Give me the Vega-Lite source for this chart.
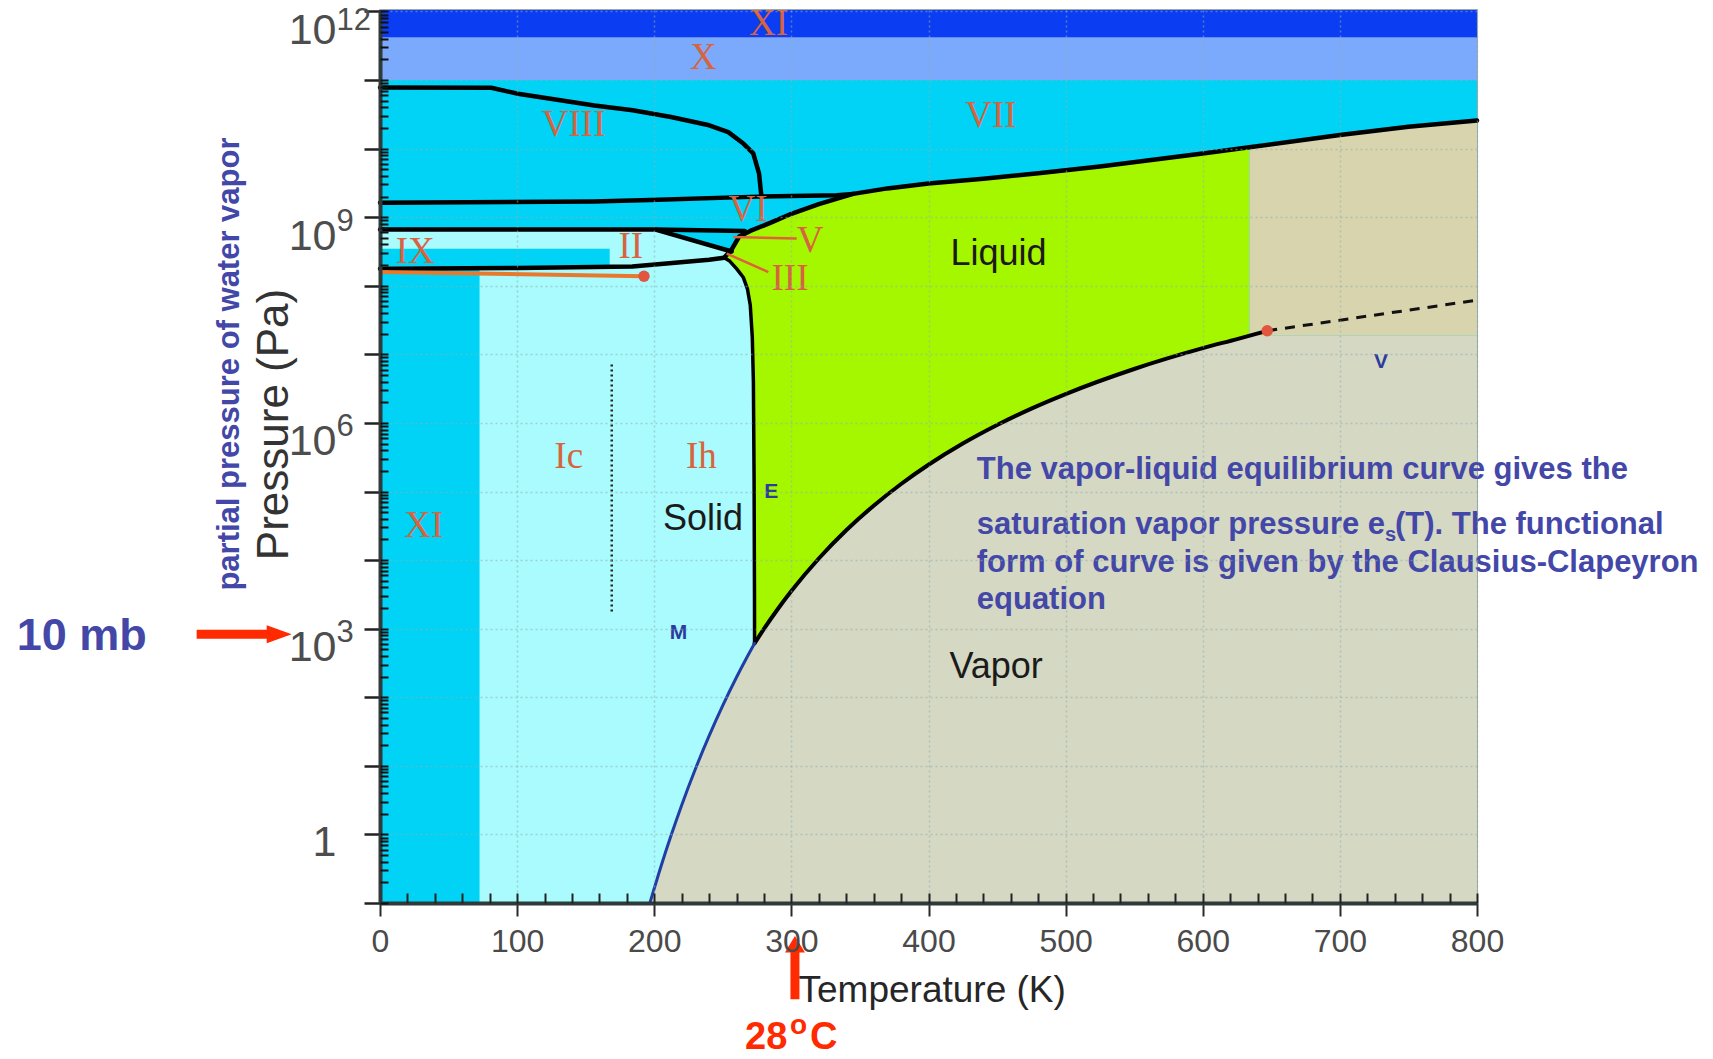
{
"$schema":"https://vega.github.io/schema/vega-lite/v6.json",
"width":1097,"height":893,
"autosize":{"type":"none"},
"padding":{"left":380,"top":10,"right":236,"bottom":156},
"background":"white",
"datasets":{
"rects":[
{"r":"cyan","T":0,"T2":800,"P":1e11,"P2":0.1},
{"r":"xband","T":0,"T2":800,"P":4.17e11,"P2":1e11},
{"r":"xiband","T":0,"T2":800,"P":1.05e12,"P2":4.17e11},
{"r":"ix","T":0,"T2":167.5,"P":3.467e8,"P2":1.905e8},
{"r":"dotted","T":169,"T2":169,"P":1778,"P2":7.413e6},
{"r":"varrow","T":257.6,"T2":303.9,"P":5.129e8,"P2":4.898e8},
{"r":"iiiarrow","T":252.8,"T2":283.2,"P":2.951e8,"P2":1.585e8},
{"r":"mbarrow","T":-133.7,"T2":-81.7,"P":826,"P2":826},
{"r":"carrow","T":302.6,"T2":302.6,"P":0.0211,"P2":0.00395},
{"r":"mbhead","T":-73.5,"T2":-73.5,"P":826,"P2":826},
{"r":"chead","T":302.6,"T2":302.6,"P":0.025,"P2":0.025},
{"r":"crit","T":647,"T2":647,"P":2.206e7,"P2":2.206e7},
{"r":"iidot","T":192.5,"T2":192.5,"P":1.38e8,"P2":1.38e8}
],
"areas":[
{"a":"green","T":251,"P":2.57e8,"P2":0.1},
{"a":"green","T":256.5,"P":3.388e8,"P2":0.1},
{"a":"green","T":262,"P":5.248e8,"P2":0.1},
{"a":"green","T":270,"P":6.31e8,"P2":0.1},
{"a":"green","T":285,"P":8.318e8,"P2":0.1},
{"a":"green","T":300,"P":1.122e9,"P2":0.1},
{"a":"green","T":320,"P":1.549e9,"P2":0.1},
{"a":"green","T":345,"P":2.188e9,"P2":0.1},
{"a":"green","T":370,"P":2.63e9,"P2":0.1},
{"a":"green","T":400,"P":3.09e9,"P2":0.1},
{"a":"green","T":440,"P":3.631e9,"P2":0.1},
{"a":"green","T":480,"P":4.365e9,"P2":0.1},
{"a":"green","T":525,"P":5.495e9,"P2":0.1},
{"a":"green","T":561,"P":6.761e9,"P2":0.1},
{"a":"green","T":600,"P":8.511e9,"P2":0.1},
{"a":"green","T":634,"P":1.047e10,"P2":0.1},
{"a":"ii","T":0,"P":6.607e8,"P2":1.778e8},
{"a":"ii","T":100,"P":6.607e8,"P2":1.82e8},
{"a":"ii","T":184,"P":6.607e8,"P2":1.905e8},
{"a":"ii","T":201,"P":6.607e8,"P2":2.042e8},
{"a":"ii","T":240,"P":3.89e8,"P2":2.399e8},
{"a":"ii","T":251,"P":3.388e8,"P2":2.57e8},
{"a":"ii","T":256.5,"P":3.162e8,"P2":3.162e8},
{"a":"ih","T":72.6,"P":1.778e8,"P2":0.1},
{"a":"ih","T":100,"P":1.82e8,"P2":0.1},
{"a":"ih","T":184,"P":1.905e8,"P2":0.1},
{"a":"ih","T":240,"P":2.399e8,"P2":0.1},
{"a":"ih","T":251,"P":2.57e8,"P2":0.1},
{"a":"ih","T":255,"P":2.291e8,"P2":0.1},
{"a":"ih","T":260,"P":1.778e8,"P2":0.1},
{"a":"ih","T":265,"P":1.318e8,"P2":0.1},
{"a":"ih","T":268,"P":8.913e7,"P2":0.1},
{"a":"ih","T":270,"P":5.248e7,"P2":0.1},
{"a":"ih","T":271.5,"P":1.778e7,"P2":0.1},
{"a":"ih","T":272.3,"P":3.981e6,"P2":0.1},
{"a":"ih","T":272.8,"P":1.585e5,"P2":0.1},
{"a":"ih","T":273.1,"P":3162,"P2":0.1},
{"a":"ih","T":273.16,"P":611,"P2":0.1},
{"a":"ih","T":273.2,"P":0.1,"P2":0.1},
{"a":"vapor","T":197,"P":0.1028,"P2":0.1},
{"a":"vapor","T":205,"P":0.3467,"P2":0.1},
{"a":"vapor","T":212,"P":0.931,"P2":0.1},
{"a":"vapor","T":220,"P":2.673,"P2":0.1},
{"a":"vapor","T":230,"P":8.995,"P2":0.1},
{"a":"vapor","T":240,"P":27.35,"P2":0.1},
{"a":"vapor","T":250,"P":76.21,"P2":0.1},
{"a":"vapor","T":260,"P":195.9,"P2":0.1},
{"a":"vapor","T":268,"P":396.3,"P2":0.1},
{"a":"vapor","T":273.16,"P":611,"P2":0.1},
{"a":"vapor","T":280,"P":991,"P2":0.1},
{"a":"vapor","T":290,"P":1920,"P2":0.1},
{"a":"vapor","T":300,"P":3537,"P2":0.1},
{"a":"vapor","T":320,"P":10550,"P2":0.1},
{"a":"vapor","T":340,"P":27190,"P2":0.1},
{"a":"vapor","T":360,"P":62150,"P2":0.1},
{"a":"vapor","T":380,"P":128800,"P2":0.1},
{"a":"vapor","T":400,"P":245600,"P2":0.1},
{"a":"vapor","T":425,"P":500000,"P2":0.1},
{"a":"vapor","T":450,"P":932000,"P2":0.1},
{"a":"vapor","T":475,"P":1.62e6,"P2":0.1},
{"a":"vapor","T":500,"P":2.64e6,"P2":0.1},
{"a":"vapor","T":550,"P":6.12e6,"P2":0.1},
{"a":"vapor","T":600,"P":1.23e7,"P2":0.1},
{"a":"vapor","T":625,"P":1.67e7,"P2":0.1},
{"a":"vapor","T":647,"P":2.206e7,"P2":0.1},
{"a":"vapor","T":649,"P":1.86e7,"P2":0.1},
{"a":"vapor","T":800,"P":1.86e7,"P2":0.1},
{"a":"beige","T":634,"P":1.047e10,"P2":1.86e7},
{"a":"beige","T":700,"P":1.585e10,"P2":1.86e7},
{"a":"beige","T":750,"P":2.089e10,"P2":1.86e7},
{"a":"beige","T":800,"P":2.57e10,"P2":1.86e7}
],
"lines":[
{"l":"viii","T":0,"P":7.762e10},
{"l":"viii","T":81.1,"P":7.727e10},
{"l":"viii","T":100.6,"P":6.31e10},
{"l":"viii","T":156.4,"P":4.266e10},
{"l":"viii","T":184.3,"P":3.631e10},
{"l":"viii","T":212.2,"P":2.884e10},
{"l":"viii","T":240.1,"P":2.188e10},
{"l":"viii","T":254,"P":1.738e10},
{"l":"viii","T":265.2,"P":1.175e10},
{"l":"viii","T":272.2,"P":8.511e9},
{"l":"viii","T":276.4,"P":4.365e9},
{"l":"viii","T":277.8,"P":2.344e9},
{"l":"viii","T":278.2,"P":1.95e9},
{"l":"upper","T":0,"P":1.622e9},
{"l":"upper","T":156,"P":1.698e9},
{"l":"upper","T":197,"P":1.778e9},
{"l":"upper","T":276,"P":1.995e9},
{"l":"upper","T":333,"P":2.089e9},
{"l":"upper","T":345,"P":2.188e9},
{"l":"melt","T":251,"P":2.57e8},
{"l":"melt","T":256.5,"P":3.388e8},
{"l":"melt","T":262,"P":5.248e8},
{"l":"melt","T":270,"P":6.31e8},
{"l":"melt","T":285,"P":8.318e8},
{"l":"melt","T":300,"P":1.122e9},
{"l":"melt","T":320,"P":1.549e9},
{"l":"melt","T":345,"P":2.188e9},
{"l":"melt","T":370,"P":2.63e9},
{"l":"melt","T":400,"P":3.09e9},
{"l":"melt","T":440,"P":3.631e9},
{"l":"melt","T":480,"P":4.365e9},
{"l":"melt","T":525,"P":5.495e9},
{"l":"melt","T":561,"P":6.761e9},
{"l":"melt","T":600,"P":8.511e9},
{"l":"melt","T":634,"P":1.047e10},
{"l":"melt","T":700,"P":1.585e10},
{"l":"melt","T":750,"P":2.089e10},
{"l":"melt","T":800,"P":2.57e10},
{"l":"lower","T":0,"P":6.607e8},
{"l":"lower","T":201,"P":6.607e8},
{"l":"lower","T":266,"P":6.31e8},
{"l":"iiv","T":201,"P":6.607e8},
{"l":"iiv","T":256.5,"P":3.162e8},
{"l":"iih","T":0,"P":1.778e8},
{"l":"iih","T":100,"P":1.82e8},
{"l":"iih","T":184,"P":1.905e8},
{"l":"iih","T":240,"P":2.399e8},
{"l":"iih","T":251,"P":2.57e8},
{"l":"ihmelt","T":251,"P":2.57e8},
{"l":"ihmelt","T":255,"P":2.291e8},
{"l":"ihmelt","T":260,"P":1.778e8},
{"l":"ihmelt","T":265,"P":1.318e8},
{"l":"ihmelt","T":268,"P":8.913e7},
{"l":"ihmelt","T":270,"P":5.248e7},
{"l":"ihmelt","T":271.5,"P":1.778e7},
{"l":"ihmelt","T":272.3,"P":3.981e6},
{"l":"ihmelt","T":272.8,"P":1.585e5},
{"l":"ihmelt","T":273.1,"P":3162},
{"l":"ihmelt","T":273.16,"P":611},
{"l":"lv","T":273.16,"P":611},
{"l":"lv","T":280,"P":991},
{"l":"lv","T":290,"P":1920},
{"l":"lv","T":300,"P":3537},
{"l":"lv","T":320,"P":10550},
{"l":"lv","T":340,"P":27190},
{"l":"lv","T":360,"P":62150},
{"l":"lv","T":380,"P":128800},
{"l":"lv","T":400,"P":245600},
{"l":"lv","T":425,"P":500000},
{"l":"lv","T":450,"P":932000},
{"l":"lv","T":475,"P":1.62e6},
{"l":"lv","T":500,"P":2.64e6},
{"l":"lv","T":550,"P":6.12e6},
{"l":"lv","T":600,"P":1.23e7},
{"l":"lv","T":625,"P":1.67e7},
{"l":"lv","T":647,"P":2.206e7},
{"l":"sub","T":197,"P":0.1028},
{"l":"sub","T":205,"P":0.3467},
{"l":"sub","T":212,"P":0.931},
{"l":"sub","T":220,"P":2.673},
{"l":"sub","T":230,"P":8.995},
{"l":"sub","T":240,"P":27.35},
{"l":"sub","T":250,"P":76.21},
{"l":"sub","T":260,"P":195.9},
{"l":"sub","T":268,"P":396.3},
{"l":"sub","T":273.16,"P":611},
{"l":"dash","T":647,"P":2.206e7},
{"l":"dash","T":800,"P":6.166e7},
{"l":"orange","T":0,"P":1.585e8},
{"l":"orange","T":192.5,"P":1.38e8}
],
"labels":[
{"g":"roman","text":"XI","T":283.3,"P":6.457e11},
{"g":"roman","text":"X","T":235.9,"P":2.089e11},
{"g":"roman","text":"VIII","T":141.2,"P":2.239e10},
{"g":"roman","text":"VII","T":445.5,"P":2.951e10},
{"g":"roman","text":"VI","T":268.4,"P":1.259e9},
{"g":"roman","text":"V","T":313.6,"P":4.571e8},
{"g":"roman","text":"II","T":182.9,"P":3.715e8},
{"g":"roman","text":"IX","T":25.7,"P":3.09e8},
{"g":"roman","text":"III","T":299,"P":1.259e8},
{"g":"roman","text":"Ic","T":137.6,"P":3.162e5},
{"g":"roman","text":"Ih","T":234.4,"P":3.236e5},
{"g":"roman","text":"XI","T":32,"P":3.162e4},
{"g":"phase","text":"Liquid","T":451,"P":2.884e8},
{"g":"phase","text":"Solid","T":235.5,"P":3.981e4},
{"g":"phase","text":"Vapor","T":449.3,"P":275.4},
{"g":"blue","text":"E","T":285.3,"P":9.772e4},
{"g":"blue","text":"M","T":217.7,"P":871},
{"g":"blue","text":"V","T":730,"P":7.762e6},
{"g":"note","text":"The vapor-liquid equilibrium curve gives the","T":435.2,"P":2.08e5},
{"g":"note","text":"saturation vapor pressure e","T":435.2,"P":3.214e4},
{"g":"note","text":"(T). The functional","T":740.2,"P":3.214e4},
{"g":"note","text":"form of curve is given by the Clausius-Clapeyron","T":435.2,"P":8933},
{"g":"note","text":"equation","T":435.2,"P":2661},
{"g":"sub","text":"s","T":732.9,"P":2.339e4},
{"g":"side","text":"partial pressure of water vapor","T":-109.4,"P":7.228e6},
{"g":"mb","text":"10 mb","T":-264.9,"P":494},
{"g":"red","text":"28","T":266.2,"P":7.4e-4},
{"g":"red","text":"C","T":313.6,"P":7.4e-4},
{"g":"redo","text":"o","T":299,"P":1.22e-3}
]
},
"encoding":{
"x":{"field":"T","type":"quantitative","scale":{"domain":[0,800],"nice":false,"zero":false},"axis":null},
"y":{"field":"P","type":"quantitative","scale":{"type":"log","domain":[0.1,1.05e12],"nice":false},"axis":null}
},
"layer":[
{"data":{"name":"rects"},"transform":[{"filter":"datum.r=='cyan'||datum.r=='xband'||datum.r=='xiband'"}],
 "mark":{"type":"rect"},
 "encoding":{
  "x":{"field":"T","type":"quantitative","scale":{"domain":[0,800],"nice":false,"zero":false},
   "axis":{"orient":"bottom","values":[0,100,200,300,400,500,600,700,800],"tickSize":13,"tickWidth":2,"tickColor":"#2b2b2b","domain":true,"domainColor":"#2f3a3a","domainWidth":4,
    "labelFont":"Liberation Sans","labelFontSize":32,"labelColor":"#4a4a4a","labelPadding":25,"labelBaseline":"middle","labelFlush":false,"labelOverlap":false,
    "grid":true,"gridColor":"#8fb0b0","gridOpacity":0.55,"gridDash":[2,3],"gridWidth":1.5,
    "title":"Temperature (K)","titleFont":"Liberation Sans","titleFontSize":37,"titleFontWeight":"normal","titleColor":"#262626","titleX":551.7,"titleY":98.7,"titleAlign":"center","titleBaseline":"alphabetic","zindex":1}},
  "x2":{"field":"T2"},
  "y":{"field":"P","type":"quantitative","scale":{"type":"log","domain":[0.1,1.05e12],"nice":false},
   "axis":{"orient":"left","values":[0.1,1,10,100,1000,1e4,1e5,1e6,1e7,1e8,1e9,1e10,1e11,1e12],"tickSize":16,"tickWidth":2.5,"tickColor":"#222","domain":true,"domainColor":"#2f3a3a","domainWidth":4,
    "labelExpr":"datum.value == 1 ? '1' : (datum.value == 1000 || datum.value == 1000000 || datum.value == 1000000000 || datum.value == 1000000000000) ? '10' : ''",
    "labelFont":"Liberation Sans","labelFontSize":43,"labelColor":"#4d4d4d","labelAlign":"right","labelBaseline":"middle","labelPadding":28,
    "labelOffset":{"condition":{"test":"datum.value == 1","value":8},"value":19},"labelOverlap":false,"labelFlush":false,"labelBound":false,
    "grid":true,"gridColor":"#8fb0b0","gridOpacity":0.55,"gridDash":[2,3],"gridWidth":1.5,
    "title":"Pressure (Pa)","titleFont":"Liberation Sans","titleFontSize":44,"titleFontWeight":"normal","titleColor":"#333","titleAngle":270,"titleX":-84,"titleY":414,"titleAlign":"center","titleBaseline":"bottom","zindex":1}},
  "y2":{"field":"P2"},
  "color":{"field":"r","type":"nominal","scale":{"domain":["cyan","xband","xiband"],"range":["#00d3f6","#7ba9fb","#0b3df2"]},"legend":null}
 }},
{"data":{"name":"areas"},"transform":[{"filter":"datum.a=='green'"}],
 "mark":{"type":"area","color":"#a5f700","orient":"vertical"},
 "encoding":{
  "x":{"field":"T","type":"quantitative","scale":{"domain":[0,800],"nice":false,"zero":false},
   "axis":{"orient":"bottom","values":[0,20,40,60,80,100,120,140,160,180,200,220,240,260,280,300,320,340,360,380,400,420,440,460,480,500,520,540,560,580,600,620,640,660,680,700,720,740,760,780,800],"tickSize":-10,"tickWidth":2,"tickColor":"#222","domain":false,"labels":false,"grid":false,"title":null,"zindex":1}},
  "y":{"field":"P","type":"quantitative","scale":{"type":"log","domain":[0.1,1.05e12],"nice":false},"stack":null,
   "axis":{"orient":"left","values":[0.1,0.2,0.3,0.4,0.5,0.6,0.7,0.8,0.9,1,2,3,4,5,6,7,8,9,10,20,30,40,50,60,70,80,90,100,200,300,400,500,600,700,800,900,1e3,2e3,3e3,4e3,5e3,6e3,7e3,8e3,9e3,1e4,2e4,3e4,4e4,5e4,6e4,7e4,8e4,9e4,1e5,2e5,3e5,4e5,5e5,6e5,7e5,8e5,9e5,1e6,2e6,3e6,4e6,5e6,6e6,7e6,8e6,9e6,1e7,2e7,3e7,4e7,5e7,6e7,7e7,8e7,9e7,1e8,2e8,3e8,4e8,5e8,6e8,7e8,8e8,9e8,1e9,2e9,3e9,4e9,5e9,6e9,7e9,8e9,9e9,1e10,2e10,3e10,4e10,5e10,6e10,7e10,8e10,9e10,1e11,2e11,3e11,4e11,5e11,6e11,7e11,8e11,9e11,1e12],"tickSize":-8,"tickWidth":2,"tickColor":"#111","domain":false,"labels":false,"grid":false,"title":null,"zindex":1}},
  "y2":{"field":"P2"}
 }},
{"data":{"name":"areas"},"transform":[{"filter":"datum.a=='ii'"}],
 "mark":{"type":"area","color":"#a9fbfd","orient":"vertical"},
 "encoding":{"y":{"field":"P","type":"quantitative","scale":{"type":"log","domain":[0.1,1.05e12],"nice":false},"stack":null,"axis":null},"y2":{"field":"P2"}}},
{"data":{"name":"areas"},"transform":[{"filter":"datum.a=='ih'"}],
 "mark":{"type":"area","color":"#a9fbfd","orient":"vertical"},
 "encoding":{"y":{"field":"P","type":"quantitative","scale":{"type":"log","domain":[0.1,1.05e12],"nice":false},"stack":null,"axis":null},"y2":{"field":"P2"}}},
{"data":{"name":"rects"},"transform":[{"filter":"datum.r=='ix'"}],
 "mark":{"type":"rect","color":"#00d3f6"},
 "encoding":{"x2":{"field":"T2"},"y2":{"field":"P2"}}},
{"data":{"name":"areas"},"transform":[{"filter":"datum.a=='vapor'"}],
 "mark":{"type":"area","color":"#d5d8c3","orient":"vertical","interpolate":"monotone"},
 "encoding":{
  "y":{"field":"P","type":"quantitative","scale":{"type":"log","domain":[0.1,1.05e12],"nice":false},"stack":null,
   "axis":{"orient":"left","values":[1000,1000000,1000000000,1000000000000],"ticks":false,"domain":false,"grid":false,
    "labelExpr":"datum.value == 1000 ? '3' : datum.value == 1000000 ? '6' : datum.value == 1000000000 ? '9' : '12'",
    "labelFont":"Liberation Sans","labelAlign":"left","labelBaseline":"middle","labelPadding":44,
    "labelOffset":{"condition":{"test":"datum.value == 1000000000000","value":9},"value":4},
    "labelFontSize":31,"labelColor":"#4d4d4d","labelOverlap":false,"labelFlush":false,"labelBound":false,"title":null,"zindex":1}},
  "y2":{"field":"P2"}
 }},
{"data":{"name":"areas"},"transform":[{"filter":"datum.a=='beige'"}],
 "mark":{"type":"area","color":"#d7d4ae","orient":"vertical"},
 "encoding":{"y":{"field":"P","type":"quantitative","scale":{"type":"log","domain":[0.1,1.05e12],"nice":false},"stack":null,"axis":null},"y2":{"field":"P2"}}},
{"data":{"name":"lines"},"transform":[{"filter":"datum.l=='viii'||datum.l=='upper'||datum.l=='melt'||datum.l=='lower'||datum.l=='iiv'||datum.l=='iih'"}],
 "mark":{"type":"line","color":"#000000","strokeWidth":4.5,"strokeCap":"round","strokeJoin":"round"},
 "encoding":{"detail":{"field":"l"}}},
{"data":{"name":"lines"},"transform":[{"filter":"datum.l=='ihmelt'"}],
 "mark":{"type":"line","color":"#000000","strokeWidth":3.5,"strokeCap":"round","strokeJoin":"round"},
 "encoding":{}},
{"data":{"name":"lines"},"transform":[{"filter":"datum.l=='lv'"}],
 "mark":{"type":"line","color":"#000000","strokeWidth":4,"strokeCap":"round","strokeJoin":"round","interpolate":"monotone"},
 "encoding":{}},
{"data":{"name":"lines"},"transform":[{"filter":"datum.l=='sub'"}],
 "mark":{"type":"line","color":"#1f3ea6","strokeWidth":3,"strokeCap":"round","interpolate":"monotone"},
 "encoding":{}},
{"data":{"name":"lines"},"transform":[{"filter":"datum.l=='dash'"}],
 "mark":{"type":"line","color":"#111111","strokeWidth":3,"strokeDash":[10,8]},
 "encoding":{}},
{"data":{"name":"lines"},"transform":[{"filter":"datum.l=='orange'"}],
 "mark":{"type":"line","color":"#e8782c","strokeWidth":4},
 "encoding":{}},
{"data":{"name":"rects"},"transform":[{"filter":"datum.r=='dotted'"}],
 "mark":{"type":"rule","color":"#222222","strokeWidth":2.5,"strokeDash":[2,3]},
 "encoding":{"y2":{"field":"P2"}}},
{"data":{"name":"rects"},"transform":[{"filter":"datum.r=='varrow'||datum.r=='iiiarrow'"}],
 "mark":{"type":"rule","color":"#e0623a","strokeWidth":2.5},
 "encoding":{"x2":{"field":"T2"},"y2":{"field":"P2"}}},
{"data":{"name":"rects"},"transform":[{"filter":"datum.r=='mbarrow'||datum.r=='carrow'"}],
 "mark":{"type":"rule","color":"#ff2a00","strokeWidth":9},
 "encoding":{"x2":{"field":"T2"},"y2":{"field":"P2"}}},
{"data":{"name":"rects"},"transform":[{"filter":"datum.r=='mbhead'"}],
 "mark":{"type":"point","shape":"M1,0L-1,-0.72L-1,0.72Z","size":625,"filled":true,"color":"#ff2a00","opacity":1},
 "encoding":{}},
{"data":{"name":"rects"},"transform":[{"filter":"datum.r=='chead'"}],
 "mark":{"type":"point","shape":"M0,-0.83L1,0.83L-1,0.83Z","size":400,"filled":true,"color":"#ff2a00","opacity":1},
 "encoding":{}},
{"data":{"name":"rects"},"transform":[{"filter":"datum.r=='crit'||datum.r=='iidot'"}],
 "mark":{"type":"point","shape":"circle","size":130,"filled":true,"color":"#e2553f","opacity":1},
 "encoding":{}},
{"data":{"name":"labels"},"transform":[{"filter":"datum.g=='roman'"}],
 "mark":{"type":"text","font":"Liberation Serif","fontSize":37,"color":"#d8643f","align":"center","baseline":"middle"},
 "encoding":{"text":{"field":"text"}}},
{"data":{"name":"labels"},"transform":[{"filter":"datum.g=='phase'"}],
 "mark":{"type":"text","font":"Liberation Sans","fontSize":36,"color":"#1b1b1b","align":"center","baseline":"middle"},
 "encoding":{"text":{"field":"text"}}},
{"data":{"name":"labels"},"transform":[{"filter":"datum.g=='blue'"}],
 "mark":{"type":"text","font":"Liberation Sans","fontSize":21,"fontWeight":"bold","color":"#2c3b9e","align":"center","baseline":"middle"},
 "encoding":{"text":{"field":"text"}}},
{"data":{"name":"labels"},"transform":[{"filter":"datum.g=='note'"}],
 "mark":{"type":"text","font":"Liberation Sans","fontSize":31,"fontWeight":"bold","color":"#4347a8","align":"left","baseline":"middle"},
 "encoding":{"text":{"field":"text"}}},
{"data":{"name":"labels"},"transform":[{"filter":"datum.g=='sub'"}],
 "mark":{"type":"text","font":"Liberation Sans","fontSize":20,"fontWeight":"bold","color":"#4347a8","align":"left","baseline":"middle"},
 "encoding":{"text":{"field":"text"}}},
{"data":{"name":"labels"},"transform":[{"filter":"datum.g=='side'"}],
 "mark":{"type":"text","font":"Liberation Sans","fontSize":31,"fontWeight":"bold","color":"#4347a8","align":"center","baseline":"middle","angle":270},
 "encoding":{"text":{"field":"text"}}},
{"data":{"name":"labels"},"transform":[{"filter":"datum.g=='mb'"}],
 "mark":{"type":"text","font":"Liberation Sans","fontSize":45,"fontWeight":"bold","color":"#4347a8","align":"left","baseline":"alphabetic"},
 "encoding":{"text":{"field":"text"}}},
{"data":{"name":"labels"},"transform":[{"filter":"datum.g=='red'"}],
 "mark":{"type":"text","font":"Liberation Sans","fontSize":38,"fontWeight":"bold","color":"#ff2a00","align":"left","baseline":"alphabetic"},
 "encoding":{"text":{"field":"text"}}},
{"data":{"name":"labels"},"transform":[{"filter":"datum.g=='redo'"}],
 "mark":{"type":"text","font":"Liberation Sans","fontSize":28,"fontWeight":"bold","color":"#ff2a00","align":"left","baseline":"alphabetic"},
 "encoding":{"text":{"field":"text"}}}
],
"resolve":{"axis":{"x":"independent","y":"independent"}},
"config":{"view":{"stroke":"#7d8c8c","strokeWidth":1.5}}
}
